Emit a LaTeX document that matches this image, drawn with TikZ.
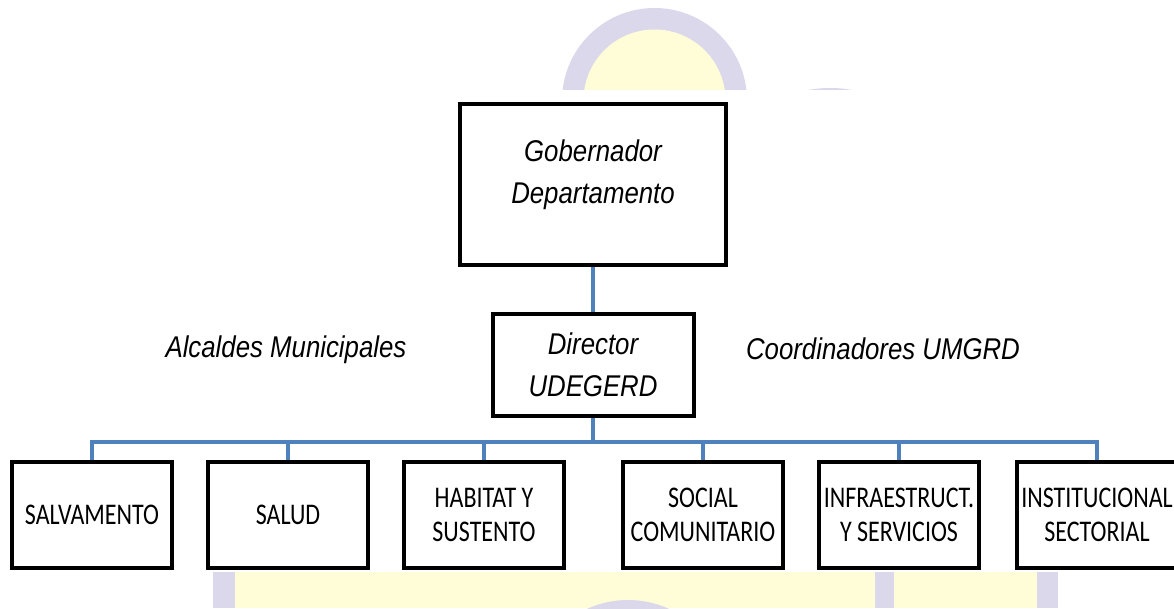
\documentclass[tikz,border=0pt]{standalone}
\usepackage{fontspec}
\usepackage{tikz}
\usetikzlibrary{positioning}
\newfontfamily\headfont[FakeStretch=0.86]{Liberation Sans}
\newfontfamily\areafont[FakeStretch=0.8]{Carlito}
\definecolor{linkblue}{RGB}{79,129,189}
\definecolor{marklav}{RGB}{220,216,235}
\definecolor{markyel}{RGB}{255,253,216}
\tikzstyle{topbox} = [rectangle, draw=black, line width=4pt, fill=white, align=center, font=\headfont\itshape\fontsize{30}{42}\selectfont]
\tikzstyle{areabox} = [rectangle, draw=black, line width=4pt, fill=white, minimum width=160pt, minimum height=106pt, inner sep=0pt, align=center, font=\areafont\fontsize{30}{34}\selectfont]
\tikzstyle{sidelabel} = [font=\headfont\itshape\fontsize{30}{36}\selectfont]
\tikzstyle{link} = [draw=linkblue, line width=3.5pt]

\begin{document}
\begin{tikzpicture}[x=1pt, y=-1pt]

	\useasboundingbox (0,0) rectangle (1174,608);
	\clip (0,0) rectangle (1174,608);

	% watermark behind the chart
	\fill [white] (0,0) rectangle (1174,608);
	\fill [marklav] (654.5,100.5) circle (92.5pt);
	\fill [markyel] (654.5,100.5) circle (71pt);
	\fill [marklav] (830,208) circle (120pt);
	\fill [markyel] (235,572) rectangle (1037,608);
	\fill [marklav] (213,572) rectangle (235,608);
	\fill [marklav] (875,572) rectangle (894,608);
	\fill [marklav] (1037,572) rectangle (1058,608);
	\fill [marklav] (628,699) circle (99pt);
	\fill [white] (0,90) rectangle (1174,572);

	\node (gob) [topbox, minimum width=266pt, minimum height=161pt, text depth=26pt] at (593,184.5) {Gobernador\\Departamento};
	\node (dir) [topbox, minimum width=201pt, minimum height=102pt, below=45pt of gob] {Director\\UDEGERD};
	\node (alcaldes) [sidelabel] at (286,350) {Alcaldes Municipales};
	\node (coord) [sidelabel] at (883,349) {Coordinadores UMGRD};

	\node (salv) [areabox] at (92,515) {SALVAMENTO};
	\node (salud) [areabox, right=32pt of salv] {SALUD};
	\node (habitat) [areabox, right=32pt of salud] {HABITAT Y\\SUSTENTO};
	\node (social) [areabox, right=55pt of habitat] {SOCIAL\\COMUNITARIO};
	\node (infra) [areabox, right=32pt of social] {INFRAESTRUCT.\\Y SERVICIOS};
	\node (inst) [areabox, right=34pt of infra] {INSTITUCIONAL\\SECTORIAL};

	\coordinate (bus) at (593,442);

	\draw [link] (gob) -- (dir);
	\draw [link] (dir) -- (bus);
	\draw [link] (bus) -| (salv);
	\draw [link] (bus) -| (salud);
	\draw [link] (bus) -| (habitat);
	\draw [link] (bus) -| (social);
	\draw [link] (bus) -| (infra);
	\draw [link] (bus) -| (inst);

\end{tikzpicture}
\end{document}
